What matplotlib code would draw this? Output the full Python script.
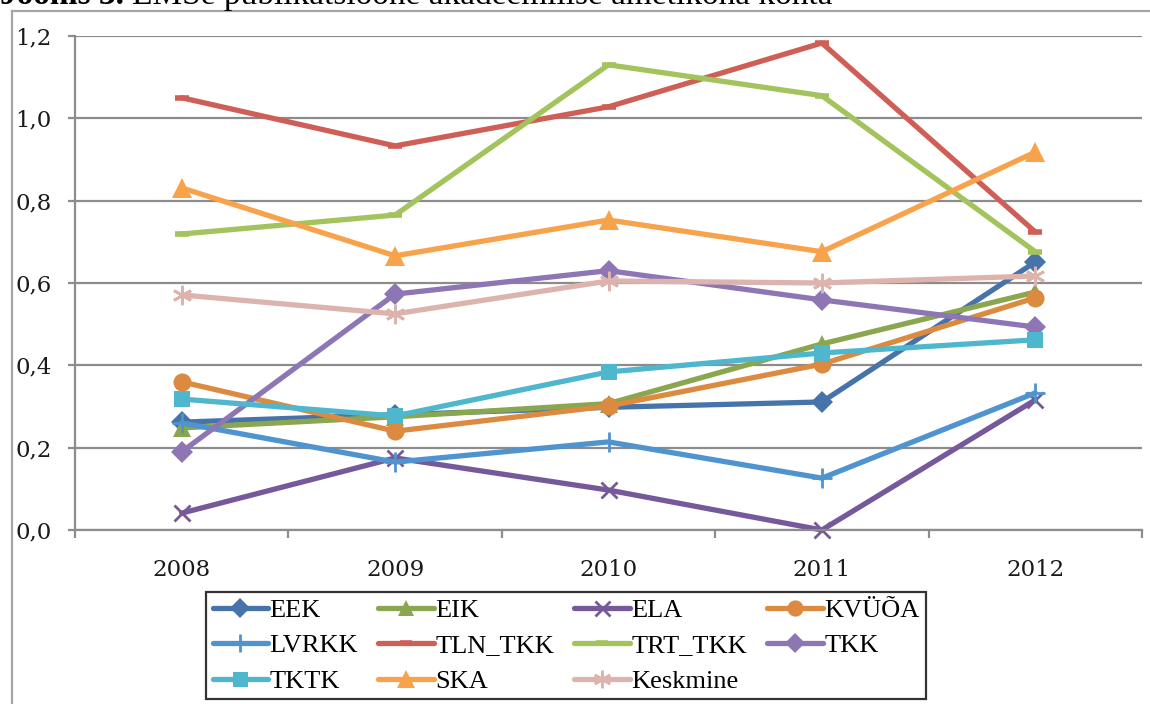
import matplotlib
matplotlib.use("Agg")
import matplotlib.pyplot as plt
from matplotlib.lines import Line2D

years = ["2008", "2009", "2010", "2011", "2012"]
series_names = ["EEK", "EIK", "ELA", "KVÜÕA", "LVRKK", "TLN_TKK", "TRT_TKK",
                "TKK", "TKTK", "SKA", "Keskmine"]
EEK = [0.262, 0.280, 0.298, 0.311, 0.651]
EIK = [0.248, 0.275, 0.307, 0.452, 0.578]
ELA = [0.041, 0.175, 0.097, 0.000, 0.316]
KVUOA = [0.360, 0.240, 0.301, 0.403, 0.564]
LVRKK = [0.260, 0.165, 0.214, 0.126, 0.333]
TLN_TKK = [1.050, 0.933, 1.028, 1.183, 0.724]
TRT_TKK = [0.719, 0.765, 1.130, 1.055, 0.676]
TKK = [0.190, 0.573, 0.630, 0.559, 0.493]
TKTK = [0.318, 0.277, 0.384, 0.430, 0.462]
SKA = [0.831, 0.666, 0.753, 0.676, 0.918]
Keskmine = [0.571, 0.525, 0.605, 0.600, 0.617]
values = [EEK, EIK, ELA, KVUOA, LVRKK, TLN_TKK, TRT_TKK, TKK, TKTK, SKA, Keskmine]
y_ticks = [0.0, 0.2, 0.4, 0.6, 0.8, 1.0, 1.2]
title_bold = "Joonis 3."
title_rest = "EMSe publikatsioone akadeemilise ametikoha kohta"

colors = ["#4674AA", "#8AA64E", "#75599A", "#DB8A3F", "#4F93CF", "#CF5E56",
          "#A3C35C", "#8E76B5", "#4EB7CD", "#F8A24B", "#DDB3AE"]
markers = ["D", "^", "x", "o", "+", "_", "_", "D", "s", "^", (6, 2, 0)]
msizes = [11, 13, 12, 13, 14, 10, 10, 11, 12, 14, 14]
medge = [0, 0, 2.0, 0, 2.0, 4.0, 4.0, 0, 0, 0, 2.0]

W, H = 1150, 704
fig = plt.figure(figsize=(W / 100, H / 100), dpi=100)
fig.patch.set_facecolor("white")

ax = fig.add_axes([75 / W, 1 - 530 / H, (1142 - 75) / W, (530 - 36) / H])
x = list(range(len(years)))
handles = []
for vals, name, c, m, ms, me in zip(values, series_names, colors, markers, msizes, medge):
    (h,) = ax.plot(x, vals, color=c, lw=3.8, marker=m, markersize=ms,
                   markerfacecolor=c, markeredgecolor=c, markeredgewidth=me,
                   solid_capstyle="round", label=name, clip_on=False)
    handles.append(h)

ax.set_xlim(-0.5, len(years) - 0.5)
ax.set_ylim(0, 1.2)
ax.set_yticks(y_ticks)
ax.set_yticklabels([f"{v:.1f}".replace(".", ",") for v in y_ticks])
ax.set_xticks(x)
ax.set_xticklabels(years)
ax.set_xticks([i - 0.5 for i in range(len(years) + 1)], minor=True)
grid_c = "#8C8C8C"
ax.yaxis.grid(True, color=grid_c, lw=1.6)
ax.set_axisbelow(True)
for s in ["top", "right"]:
    ax.spines[s].set_visible(False)
for s in ["left", "bottom"]:
    ax.spines[s].set_color(grid_c)
    ax.spines[s].set_linewidth(1.6)
ax.tick_params(axis="y", length=5, width=1.6, color=grid_c, pad=12,
               labelsize=16.5)
ax.tick_params(axis="x", which="major", length=0, pad=21, labelsize=16.5)
ax.tick_params(axis="x", which="minor", length=6, width=1.6, color=grid_c)
for lab in ax.get_xticklabels() + ax.get_yticklabels():
    lab.set_fontfamily("DejaVu Serif")
    lab.set_color("#1a1a1a")

order = [0, 4, 8, 1, 5, 9, 2, 6, 10, 3, 7]
leg = fig.legend([handles[i] for i in order], [series_names[i] for i in order],
                 ncol=4, loc="upper left",
                 bbox_to_anchor=(206 / W, 1 - 700 / H, 720 / W, 108 / H),
                 mode="expand", frameon=True, fancybox=False,
                 prop={"family": "Liberation Serif", "size": 19},
                 handlelength=2.1, handletextpad=0.05, columnspacing=0.3,
                 borderpad=0.25, labelspacing=0.45, borderaxespad=0,
                 markerscale=0.9)
leg.get_frame().set_edgecolor("black")
leg.get_frame().set_linewidth(1.6)

# outer frame
fig.add_artist(Line2D([12 / W, 12 / W], [0, 1 - 11 / H], color="#A6A6A6", lw=1.6,
                      transform=fig.transFigure))
fig.add_artist(Line2D([12 / W, 1], [1 - 11 / H, 1 - 11 / H], color="#A6A6A6", lw=1.6,
                      transform=fig.transFigure))

# title (partly cut at the top, as in the source)
t1 = fig.text(0 / W, 1 - 4 / H, title_bold, fontfamily="Liberation Serif",
              fontweight="bold", fontsize=24, va="baseline", ha="left")
fig.canvas.draw()
bb = t1.get_window_extent()
fig.text(bb.x1 / W + 8 / W, 1 - 4 / H, title_rest,
         fontfamily="Liberation Serif", fontsize=24, va="baseline", ha="left")

fig.savefig("out.png", dpi=100)
